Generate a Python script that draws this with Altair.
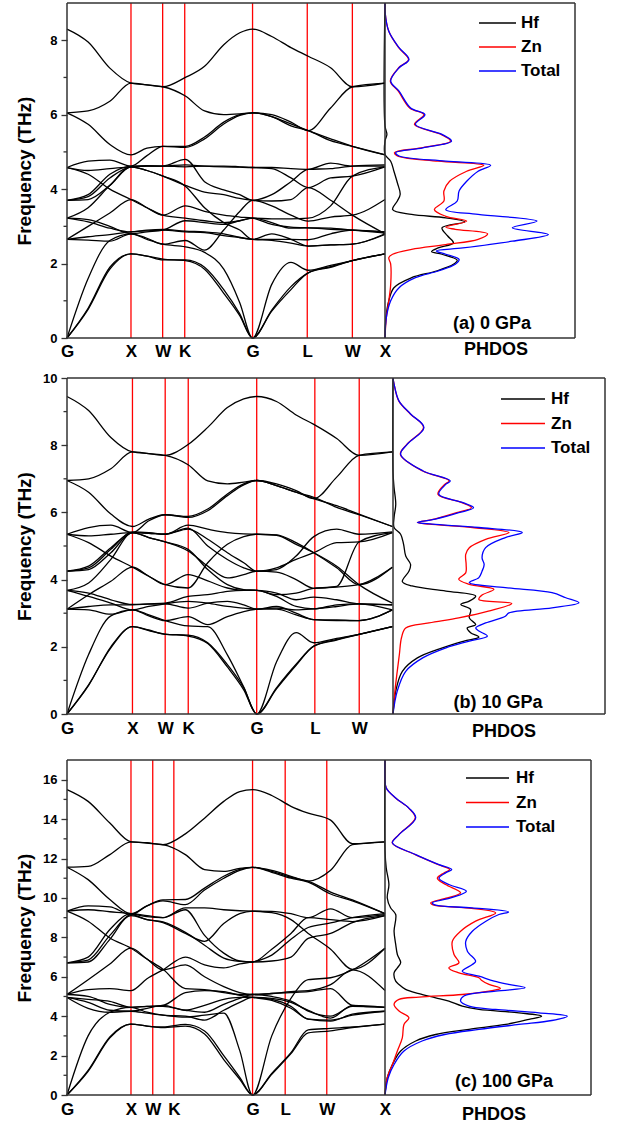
import altair as alt
import pandas as pd

FONT = "Liberation Sans"
FRAME = "#333333"

# ---------------- band-structure data ----------------
K_SAMPLES = [0, 0.33, 0.67, 1.0, 1.25, 1.5, 1.85, 2.15, 2.45, 2.7, 2.9, 3.2, 3.5, 3.77, 4.12, 4.46, 4.97]

A_BANDS = [
    [0, 0.77, 1.85, 2.26, 2.2, 2.1, 2.1, 1.9, 1.3, 0.65, 0, 0.72, 1.3, 1.75, 1.9, 2.08, 2.26],
    [0, 0.8, 1.9, 2.26, 2.2, 2.12, 2.08, 1.85, 1.2, 0.6, 0, 0.75, 1.38, 1.75, 1.92, 2.08, 2.26],
    [0, 1.6, 2.62, 2.8, 2.65, 2.52, 2.45, 2.3, 1.85, 0.95, 0, 1.44, 2.03, 1.82, 1.95, 2.08, 2.26],
    [2.65, 2.63, 2.6, 2.8, 2.68, 2.52, 2.62, 2.36, 2.9, 3.4, 3.7, 3.55, 3.3, 3.14, 3.25, 3.3, 3.72],
    [2.65, 2.72, 2.78, 2.85, 2.88, 2.9, 2.85, 2.83, 2.75, 2.7, 2.65, 2.65, 2.65, 2.64, 2.8, 2.9, 2.85],
    [2.65, 3.0, 3.36, 3.72, 3.5, 3.3, 3.55, 3.4, 3.3, 3.25, 3.22, 3.05, 2.98, 2.96, 2.95, 2.9, 2.82],
    [3.22, 3.12, 2.95, 2.85, 2.9, 2.92, 2.87, 2.85, 2.8, 2.7, 2.65, 2.62, 2.55, 2.47, 2.5, 2.52, 2.78],
    [3.22, 3.18, 3.0, 2.8, 2.85, 2.9, 3.15, 3.1, 3.05, 3.15, 3.22, 3.2, 3.2, 3.22, 3.55, 4.35, 4.6],
    [3.22, 3.5, 4.1, 4.6, 4.5, 4.35, 4.1, 3.92, 3.85, 3.75, 3.7, 3.68, 3.72, 4.04, 3.7, 3.3, 2.8],
    [3.7, 3.72, 4.1, 4.6, 4.5, 4.35, 4.08, 3.5, 3.1, 2.9, 2.65, 2.8, 2.65, 2.47, 2.5, 2.52, 2.8],
    [3.7, 3.8, 4.3, 4.6, 4.62, 4.62, 4.6, 4.62, 4.62, 4.6, 4.58, 4.58, 4.55, 4.53, 4.7, 4.62, 4.62],
    [3.7, 3.85, 4.4, 4.62, 4.63, 4.62, 4.65, 4.62, 4.6, 4.59, 4.58, 4.55, 4.3, 4.04, 4.3, 4.35, 4.6],
    [4.58, 4.75, 4.78, 4.62, 4.9, 5.15, 5.12, 5.35, 5.75, 5.98, 6.05, 5.95, 5.7, 5.57, 5.3, 5.15, 4.92],
    [4.58, 4.4, 4.0, 3.72, 3.5, 3.3, 3.22, 3.15, 3.1, 3.15, 3.22, 3.1, 2.95, 2.96, 2.92, 2.9, 2.85],
    [4.58, 4.5, 4.55, 4.6, 4.62, 4.62, 4.8, 4.2, 3.98, 3.85, 3.7, 3.85, 4.2, 4.53, 4.55, 4.62, 4.65],
    [6.05, 6.1, 6.36, 6.85, 6.8, 6.75, 6.5, 6.1, 6.0, 6.02, 6.05, 6.0, 5.8, 5.57, 6.18, 6.75, 6.85],
    [6.05, 5.74, 5.2, 4.92, 5.1, 5.15, 5.15, 5.4, 5.8, 6.0, 6.05, 5.95, 5.75, 5.57, 5.35, 5.15, 4.92],
    [8.3, 7.95, 7.25, 6.85, 6.8, 6.75, 7.0, 7.3, 7.88, 8.2, 8.3, 8.1, 7.8, 7.57, 7.26, 6.75, 6.85],
]

B_BANDS = [
    [0, 0.87, 1.97, 2.6, 2.5, 2.37, 2.35, 2.12, 1.47, 0.78, 0, 0.75, 1.45, 2.02, 2.2, 2.37, 2.6],
    [0, 0.85, 2.0, 2.6, 2.48, 2.38, 2.32, 2.1, 1.4, 0.72, 0, 0.78, 1.48, 2.02, 2.22, 2.37, 2.6],
    [0, 1.77, 2.92, 3.1, 2.95, 2.78, 2.62, 2.6, 1.76, 0.8, 0, 1.55, 2.42, 2.12, 2.25, 2.37, 2.6],
    [3.12, 3.1, 2.97, 3.1, 2.92, 2.78, 2.9, 2.66, 2.9, 3.05, 3.12, 3.15, 3.1, 3.13, 3.2, 3.28, 3.25],
    [3.12, 3.2, 3.25, 3.25, 3.27, 3.28, 3.15, 3.3, 3.35, 3.25, 3.12, 3.2, 3.0, 2.81, 2.8, 2.78, 3.1],
    [3.12, 3.55, 3.95, 4.37, 4.1, 3.85, 4.15, 3.96, 3.75, 3.68, 3.68, 3.55, 3.6, 3.74, 3.78, 3.85, 4.37],
    [3.68, 3.5, 3.3, 3.1, 3.2, 3.28, 3.35, 3.3, 3.2, 3.15, 3.12, 3.12, 2.95, 2.81, 2.78, 2.78, 3.1],
    [3.68, 3.6, 3.4, 3.26, 3.28, 3.3, 3.5, 3.55, 3.65, 3.68, 3.68, 3.6, 3.4, 3.48, 3.4, 3.28, 3.25],
    [3.68, 3.9, 4.6, 5.4, 5.25, 5.12, 4.85, 4.4, 4.05, 4.15, 4.25, 4.22, 4.0, 3.74, 3.8, 5.12, 5.4],
    [4.25, 4.3, 4.8, 5.4, 5.25, 5.12, 4.9, 4.3, 3.85, 3.7, 3.68, 3.5, 3.2, 3.13, 3.25, 3.28, 3.1],
    [4.25, 4.4, 4.95, 5.4, 5.38, 5.35, 5.5, 5.2, 4.8, 4.5, 4.25, 4.35, 4.6, 4.8, 5.1, 5.12, 5.4],
    [4.25, 4.35, 4.9, 5.42, 5.4, 5.35, 5.53, 5.0, 4.6, 4.35, 4.25, 4.3, 4.7, 5.28, 5.5, 5.35, 5.42],
    [5.35, 5.55, 5.62, 5.4, 5.75, 5.93, 5.85, 6.05, 6.5, 6.82, 6.95, 6.85, 6.65, 6.41, 7.05, 7.7, 7.8],
    [5.35, 5.1, 4.7, 4.37, 4.1, 3.85, 3.75, 4.5, 5.05, 5.28, 5.35, 5.33, 5.1, 4.8, 4.35, 3.85, 4.37],
    [5.35, 5.3, 5.35, 5.4, 5.38, 5.35, 5.62, 5.5, 5.4, 5.36, 5.35, 5.32, 5.05, 4.8, 4.4, 3.85, 3.3],
    [6.95, 7.0, 7.3, 7.8, 7.75, 7.7, 7.42, 6.94, 6.85, 6.9, 6.95, 6.8, 6.6, 6.41, 6.2, 5.95, 5.58],
    [6.95, 6.6, 5.95, 5.58, 5.8, 5.93, 5.88, 6.1, 6.55, 6.85, 6.95, 6.8, 6.6, 6.45, 6.15, 5.93, 5.58],
    [9.45, 9.03, 8.23, 7.8, 7.75, 7.7, 8.02, 8.53, 9.12, 9.38, 9.45, 9.3, 8.9, 8.62, 8.2, 7.7, 7.8],
]

C_BANDS = [
    [0, 1.2, 2.9, 3.6, 3.5, 3.42, 3.5, 3.1, 1.8, 0.8, 0, 1.05, 2.1, 3.15, 3.25, 3.42, 3.6],
    [0, 1.25, 2.95, 3.6, 3.5, 3.45, 3.58, 3.25, 2.0, 0.9, 0, 1.1, 2.15, 3.3, 3.38, 3.45, 3.6],
    [0, 3.0, 4.2, 4.45, 4.2, 4.05, 4.0, 3.8, 4.3, 4.7, 4.95, 4.85, 4.5, 3.85, 3.8, 4.05, 4.25],
    [4.95, 4.4, 4.2, 4.25, 4.15, 4.05, 3.95, 4.05, 4.15, 2.25, 0, 3.0, 4.9, 5.85, 5.95, 6.35, 7.45],
    [4.95, 4.85, 4.75, 4.45, 4.5, 4.55, 5.2, 5.3, 5.25, 5.05, 4.95, 4.8, 4.4, 3.85, 3.75, 4.1, 4.25],
    [4.95, 4.7, 4.3, 4.25, 4.4, 4.55, 4.3, 4.55, 4.85, 4.95, 4.95, 4.9, 4.7, 4.3, 3.9, 4.55, 4.45],
    [5.1, 5.35, 5.4, 5.3, 5.9, 6.35, 7.0, 6.6, 6.45, 6.65, 6.75, 7.1, 7.9, 8.5, 8.73, 9.0, 9.2],
    [5.1, 5.85, 6.65, 7.45, 6.9, 6.35, 6.6, 6.0, 5.5, 5.2, 5.1, 5.15, 5.2, 5.25, 5.4, 4.55, 4.45],
    [5.1, 5.0, 4.6, 4.45, 4.5, 4.5, 4.3, 4.2, 4.6, 4.9, 5.1, 5.0, 4.76, 4.26, 4.0, 4.5, 4.45],
    [6.71, 6.85, 8.1, 9.1, 8.9, 8.75, 8.2, 7.8, 8.7, 9.2, 9.33, 9.32, 9.2, 9.0, 9.45, 9.0, 9.15],
    [6.71, 6.75, 7.9, 9.15, 8.9, 8.78, 8.25, 7.6, 6.95, 6.78, 6.75, 6.8, 7.0, 7.95, 8.2, 8.75, 9.1],
    [6.71, 7.0, 8.4, 9.2, 9.1, 9.0, 9.5, 9.5, 9.4, 9.35, 9.33, 9.25, 8.9, 8.2, 7.4, 6.38, 7.45],
    [9.33, 9.6, 9.55, 9.15, 9.6, 9.85, 9.66, 10.4, 11.0, 11.4, 11.55, 11.3, 11.0, 10.8, 10.2, 9.85, 9.2],
    [9.33, 8.82, 7.97, 7.45, 6.9, 6.38, 5.4, 5.35, 5.2, 5.1, 5.1, 5.15, 5.25, 5.3, 5.6, 6.35, 5.3],
    [9.33, 9.4, 9.3, 9.2, 9.05, 9.0, 9.4, 8.1, 7.2, 6.8, 6.75, 7.4, 8.2, 9.0, 8.9, 8.8, 9.1],
    [11.56, 11.6, 12.2, 12.85, 12.78, 12.7, 12.2, 11.44, 11.35, 11.5, 11.55, 11.4, 11.1, 10.85, 11.4, 12.7, 12.85],
    [11.56, 10.93, 9.92, 9.2, 9.6, 9.9, 9.92, 10.5, 11.1, 11.45, 11.55, 11.35, 11.05, 10.85, 10.3, 9.9, 9.2],
    [15.5, 14.9, 13.8, 12.85, 12.8, 12.7, 13.25, 14.05, 14.9, 15.4, 15.5, 15.2, 14.65, 14.3, 13.95, 12.75, 12.85],
]

A_KPOS = [0, 1.0, 1.495, 1.84, 2.9, 3.755, 4.46, 4.97]
A_KLAB = ["G", "X", "W", "K", "G", "L", "W", "X"]
B_KPOS = [0, 1.0, 1.5, 1.852, 2.898, 3.786, 4.464]
B_KLAB = ["G", "X", "W", "K", "G", "L", "W"]
C_KPOS = [0, 1.0, 1.34, 1.67, 2.9, 3.41, 4.06, 4.97]
C_KLAB = ["G", "X", "W", "K", "G", "L", "W", "X"]

# ---------------- PHDOS data ----------------
SERIES = ["Hf", "Zn", "Total"]
COLORS = ["#000000", "#ff0000", "#0000ff"]

A_HF_F = [0, 0.55, 1.0, 1.35, 1.62, 1.8, 1.98, 2.09, 2.25, 2.32, 2.42, 2.56, 2.74, 2.96, 3.12, 3.23, 3.32, 3.45, 3.68, 3.86, 4.17, 4.48, 4.75, 4.93, 5.29, 5.47, 5.7, 9.0]
A_HF_D = [0, 0.005, 0.02, 0.047, 0.14, 0.27, 0.36, 0.38, 0.3, 0.245, 0.28, 0.36, 0.33, 0.3, 0.42, 0.32, 0.14, 0.04, 0.065, 0.08, 0.065, 0.047, 0.03, 0.0, 0.0, 0.01, 0.0, 0.0]
A_ZN_F = [0, 0.55, 1.0, 1.44, 1.98, 2.16, 2.25, 2.38, 2.51, 2.65, 2.8, 2.92, 2.98, 3.14, 3.27, 3.45, 3.68, 3.95, 4.21, 4.48, 4.64, 4.75, 4.89, 4.98, 5.11, 5.29, 5.47, 5.74, 6.0, 6.18, 6.63, 6.9, 7.26, 7.48, 7.8, 8.24, 8.78, 9.0]
A_ZN_D = [0, 0.007, 0.02, 0.03, 0.03, 0.02, 0.04, 0.14, 0.32, 0.49, 0.54, 0.37, 0.32, 0.43, 0.32, 0.26, 0.31, 0.31, 0.34, 0.43, 0.52, 0.28, 0.065, 0.05, 0.19, 0.345, 0.295, 0.155, 0.205, 0.13, 0.07, 0.028, 0.072, 0.124, 0.072, 0.02, 0.0, 0.0]
A_TOT_F = [0, 0.55, 1.0, 1.35, 1.62, 1.8, 1.98, 2.11, 2.25, 2.34, 2.42, 2.6, 2.78, 2.96, 3.14, 3.32, 3.45, 3.68, 3.95, 4.21, 4.48, 4.64, 4.75, 4.89, 4.98, 5.11, 5.29, 5.47, 5.74, 6.0, 6.18, 6.63, 6.9, 7.26, 7.48, 7.8, 8.24, 8.78, 9.0]
A_TOT_D = [0, 0.007, 0.03, 0.074, 0.16, 0.28, 0.37, 0.39, 0.32, 0.27, 0.41, 0.67, 0.86, 0.67, 0.8, 0.49, 0.32, 0.38, 0.39, 0.43, 0.49, 0.556, 0.32, 0.074, 0.056, 0.2, 0.35, 0.3, 0.16, 0.21, 0.135, 0.074, 0.03, 0.074, 0.126, 0.074, 0.02, 0.0, 0.0]

B_HF_F = [0, 0.68, 1.27, 1.67, 1.97, 2.17, 2.29, 2.42, 2.56, 2.66, 2.86, 3.11, 3.26, 3.36, 3.51, 3.66, 3.81, 3.94, 4.25, 4.45, 4.7, 5.05, 5.35, 5.55, 5.85, 6.24, 6.74, 7.2, 10]
B_HF_D = [0, 0.013, 0.044, 0.115, 0.233, 0.335, 0.405, 0.366, 0.35, 0.39, 0.36, 0.366, 0.32, 0.36, 0.39, 0.25, 0.09, 0.044, 0.075, 0.083, 0.06, 0.05, 0.036, 0.005, 0.005, 0.013, 0.005, 0.0, 0.0]
B_ZN_F = [0, 0.68, 1.27, 1.77, 2.27, 2.56, 2.71, 2.86, 3.06, 3.29, 3.41, 3.54, 3.71, 3.86, 4.01, 4.2, 4.45, 4.75, 4.95, 5.2, 5.4, 5.55, 5.65, 5.7, 5.8, 5.99, 6.14, 6.29, 6.54, 6.84, 6.94, 7.24, 7.73, 8.03, 8.53, 8.93, 9.32, 9.82, 10]
B_ZN_D = [0, 0.009, 0.02, 0.03, 0.04, 0.06, 0.17, 0.31, 0.45, 0.56, 0.405, 0.42, 0.476, 0.36, 0.31, 0.343, 0.345, 0.343, 0.36, 0.437, 0.547, 0.375, 0.17, 0.115, 0.195, 0.3, 0.37, 0.325, 0.212, 0.245, 0.265, 0.138, 0.035, 0.066, 0.144, 0.082, 0.027, 0.005, 0.0]
B_TOT_F = [0, 0.68, 1.27, 1.67, 1.97, 2.17, 2.32, 2.47, 2.56, 2.71, 2.91, 3.01, 3.16, 3.31, 3.46, 3.61, 3.76, 3.91, 4.06, 4.25, 4.45, 4.65, 4.95, 5.25, 5.4, 5.55, 5.65, 5.7, 5.8, 5.99, 6.14, 6.29, 6.54, 6.84, 6.94, 7.24, 7.73, 8.03, 8.53, 8.93, 9.32, 9.82, 10]
B_TOT_D = [0, 0.02, 0.06, 0.14, 0.25, 0.36, 0.445, 0.405, 0.39, 0.437, 0.53, 0.547, 0.75, 0.877, 0.815, 0.75, 0.53, 0.36, 0.405, 0.42, 0.43, 0.42, 0.437, 0.53, 0.61, 0.405, 0.185, 0.115, 0.2, 0.31, 0.38, 0.33, 0.216, 0.25, 0.27, 0.14, 0.036, 0.068, 0.146, 0.083, 0.028, 0.005, 0.0]

C_HF_F = [0, 0.88, 1.55, 2.23, 2.74, 3.07, 3.33, 3.58, 3.84, 4.0, 4.17, 4.34, 4.51, 4.76, 4.93, 5.14, 5.36, 5.61, 5.78, 6.2, 6.45, 6.71, 7.13, 7.64, 8.31, 9.16, 9.5, 10.0, 10.68, 11.52, 12.4, 17]
C_HF_D = [0, 0.011, 0.036, 0.076, 0.149, 0.246, 0.408, 0.586, 0.699, 0.76, 0.65, 0.456, 0.375, 0.31, 0.246, 0.165, 0.1, 0.068, 0.052, 0.044, 0.06, 0.076, 0.06, 0.052, 0.044, 0.052, 0.027, 0.011, 0.019, 0.006, 0.0, 0.0]
C_ZN_F = [0, 0.88, 1.55, 2.23, 2.9, 3.58, 3.92, 4.26, 4.6, 4.85, 4.97, 5.1, 5.27, 5.41, 5.61, 5.81, 5.95, 6.2, 6.45, 6.71, 7.13, 7.8, 8.31, 8.82, 9.24, 9.5, 9.63, 9.75, 10.0, 10.26, 10.68, 11.0, 11.27, 11.44, 11.69, 12.2, 12.79, 13.21, 14.06, 14.56, 15.07, 15.58, 16.08, 17]
C_ZN_D = [0, 0.011, 0.036, 0.06, 0.084, 0.092, 0.116, 0.068, 0.044, 0.068, 0.165, 0.375, 0.505, 0.56, 0.505, 0.47, 0.456, 0.359, 0.31, 0.359, 0.335, 0.327, 0.367, 0.44, 0.537, 0.392, 0.238, 0.222, 0.303, 0.367, 0.294, 0.254, 0.286, 0.314, 0.259, 0.147, 0.035, 0.067, 0.147, 0.115, 0.051, 0.006, 0.0, 0.0]
C_TOT_F = [0, 0.88, 1.55, 2.23, 2.74, 3.07, 3.33, 3.58, 3.78, 4.0, 4.17, 4.34, 4.51, 4.76, 5.02, 5.27, 5.44, 5.61, 5.78, 6.03, 6.28, 6.62, 6.79, 7.3, 7.8, 8.31, 8.82, 9.16, 9.29, 9.5, 9.63, 9.75, 10.0, 10.34, 10.68, 11.0, 11.27, 11.44, 11.69, 12.2, 12.79, 13.21, 14.06, 14.56, 15.07, 15.58, 16.08, 17]
C_TOT_D = [0, 0.016, 0.044, 0.092, 0.18, 0.29, 0.456, 0.65, 0.81, 0.885, 0.747, 0.537, 0.408, 0.367, 0.383, 0.537, 0.68, 0.6, 0.53, 0.456, 0.375, 0.424, 0.44, 0.4, 0.392, 0.424, 0.49, 0.553, 0.6, 0.424, 0.246, 0.23, 0.319, 0.395, 0.31, 0.262, 0.294, 0.324, 0.262, 0.149, 0.036, 0.068, 0.149, 0.116, 0.052, 0.006, 0.0, 0.0]

TAGS = ["(a) 0 GPa", "(b) 10 GPa", "(c) 100 GPa"]
DOS_TITLE = "PHDOS"
Y_TITLE = "Frequency (THz)"


def row_chart(bands, kpos, klab, kmax, fmax, wb, wd, plot_h, top, lab_pad,
              dos_data, leg, tag_xy, tag, phdos_xy):
    H = top + plot_h
    W = wb + wd
    # ---- band-structure part ----
    rows = []
    for i, b in enumerate(bands):
        for k, f in zip(K_SAMPLES, b):
            rows.append({"k": k, "f": f, "band": i})
    df = pd.DataFrame(rows)
    expr = "''"
    for p, l in reversed(list(zip(kpos, klab))):
        expr = f"abs(datum.value - {p}) < 0.0005 ? '{l}' : ({expr})"
    xenc = alt.X("k:Q", scale=alt.Scale(domain=[0, kmax], range=[0, wb], nice=False, zero=False),
                 axis=alt.Axis(values=kpos, labelExpr=expr, ticks=False, tickSize=0, domain=False,
                               grid=False, title=None, labelFont=FONT, labelFontSize=17,
                               labelFontWeight="bold", labelColor="black", labelPadding=lab_pad,
                               labelFlush=False, labelOverlap=False, labelBound=False))
    major = list(range(0, fmax + 1, 2))
    minor = list(range(1, fmax, 2))
    yenc = alt.Y("f:Q", scale=alt.Scale(domain=[0, fmax], range=[H, top], nice=False, zero=True),
                 axis=alt.Axis(values=major, tickSize=6, tickWidth=1.3, tickColor=FRAME,
                               domain=False, grid=False, labelFont=FONT, labelFontSize=13,
                               labelFontWeight="bold", labelColor="black", labelPadding=4,
                               title=Y_TITLE, titleFont=FONT, titleFontSize=19,
                               titleFontWeight="bold", titleColor="black", titleX=-43,
                               titleY=top + plot_h / 2, titleAngle=270, titleAlign="center",
                               titleBaseline="middle"))
    red_pos = [p for p in kpos if 0 < p < kmax - 0.02]
    red = alt.Chart(pd.DataFrame({"k": red_pos})).mark_rule(
        color="#ff0000", strokeWidth=1.3).encode(x=xenc, y=alt.value(top), y2=alt.value(H))
    lines = alt.Chart(df).mark_line(color="black", strokeWidth=1.3,
                                    interpolate="monotone").encode(
        x=xenc, y=yenc, detail="band:N")
    minor_t = alt.Chart(pd.DataFrame({"f": minor})).mark_rule(
        color=FRAME, strokeWidth=1.3).encode(y=yenc, x=alt.value(-3.5), x2=alt.value(0))
    band_layer = alt.layer(red, lines, minor_t)

    # ---- PHDOS part ----
    xd = alt.X("d:Q", scale=alt.Scale(domain=[0, 1], range=[wb, W], nice=False, zero=False),
               axis=None)
    dl = []
    for name, col, (fs, ds) in zip(SERIES, COLORS, dos_data):
        ddf = pd.DataFrame({"f": fs, "d": ds})
        dl.append(alt.Chart(ddf).mark_line(color=col, strokeWidth=1.3,
                                           interpolate="catmull-rom").encode(
            x=xd, y=yenc, order="f:Q"))
    dos_layer = alt.layer(*dl)

    # ---- frame, legend and texts (pixel placement inside the row) ----
    deco = []
    one = pd.DataFrame({"o": [0]})
    for (xa, xb, ya, yb) in [(0, W, top, top), (0, W, H, H), (0, 0, top, H), (W, W, top, H), (wb, wb, top, H)]:
        deco.append(alt.Chart(one).mark_rule(color=FRAME, strokeWidth=1.5).encode(
            x=alt.value(xa), x2=alt.value(xb), y=alt.value(ya), y2=alt.value(yb)))
    x0, x1, tx, y0, dy = leg
    for i, (name, col) in enumerate(zip(SERIES, COLORS)):
        ldf = pd.DataFrame({"s": [name]})
        deco.append(alt.Chart(ldf).mark_rule(color=col, strokeWidth=1.5).encode(
            x=alt.value(x0), x2=alt.value(x1), y=alt.value(y0 + i * dy)))
        deco.append(alt.Chart(ldf).mark_text(align="left", baseline="middle", font=FONT,
                                             fontSize=17, fontWeight="bold",
                                             color="black").encode(
            x=alt.value(tx), y=alt.value(y0 + i * dy), text="s:N"))
    deco.append(alt.Chart(pd.DataFrame({"t": [tag]})).mark_text(
        align="center", baseline="middle", font=FONT, fontSize=18, fontWeight="bold",
        color="black").encode(x=alt.value(tag_xy[0]), y=alt.value(tag_xy[1]), text="t:N"))
    deco.append(alt.Chart(pd.DataFrame({"t": [DOS_TITLE]})).mark_text(
        align="center", baseline="middle", font=FONT, fontSize=18, fontWeight="bold",
        color="black").encode(x=alt.value(phdos_xy[0]), y=alt.value(phdos_xy[1]), text="t:N"))
    deco_layer = alt.layer(*deco)

    return alt.layer(band_layer, dos_layer, deco_layer).resolve_scale(
        x="independent").properties(width=W, height=H, view=alt.ViewBackground(stroke=None))


row_a = row_chart(A_BANDS, A_KPOS, A_KLAB, 4.97, 9, 318, 190, 335, 2, 5,
                  [(A_HF_F, A_HF_D), (A_ZN_F, A_ZN_D), (A_TOT_F, A_TOT_D)],
                  (412, 449, 454, 22, 24), (425, 323), TAGS[0], (429, 349))
row_b = row_chart(B_BANDS, B_KPOS, B_KLAB, 4.98, 10, 326, 212, 336, 0, 6,
                  [(B_HF_F, B_HF_D), (B_ZN_F, B_ZN_D), (B_TOT_F, B_TOT_D)],
                  (434, 478, 484, 21, 24.5), (431, 325), TAGS[1], (437, 354))
row_c = row_chart(C_BANDS, C_KPOS, C_KLAB, 4.97, 17, 318, 206, 335, 6, 6,
                  [(C_HF_F, C_HF_D), (C_ZN_F, C_ZN_D), (C_TOT_F, C_TOT_D)],
                  (399, 442, 449, 24, 24.5), (437, 328), TAGS[2], (427, 361))

chart = alt.vconcat(row_a, row_b, row_c, spacing=40, bounds="flush").resolve_scale(
    x="independent", y="independent"
).properties(
    padding={"left": 15, "top": 0, "right": 0, "bottom": 0}
)

chart.save("out.html", embed_options={"renderer": "svg", "actions": False})
